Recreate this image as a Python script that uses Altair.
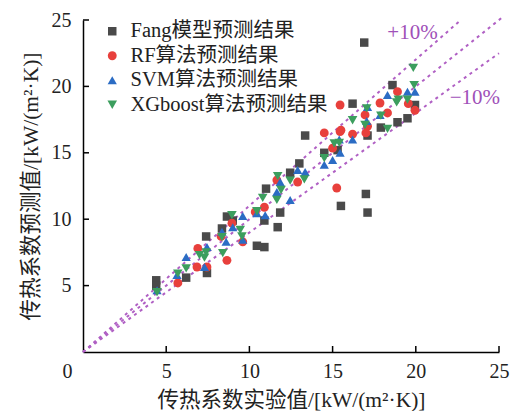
import altair as alt
import pandas as pd

series_names = ["Fang模型预测结果", "RF算法预测结果", "SVM算法预测结果", "XGboost算法预测结果"]
series_colors = ["#4a4a4a", "#e8403c", "#2b6cc4", "#3c9e5e"]
series_shapes = ["square", "circle", "triangle-up", "triangle-down"]
series_sizes = [72, 92, 110, 110]

fang_x = [4.4, 4.4, 6.2, 7.45, 7.4, 8.35, 8.65, 9.0, 10.45, 10.9, 10.9, 11.7, 11.85, 11.0, 12.45,
          13.0, 13.35, 14.5, 15.3, 15.5, 17.0, 17.1, 16.2, 17.1, 17.9, 18.9, 19.5, 19.95, 16.9, 18.6]
fang_y = [5.4, 5.0, 5.6, 5.95, 8.7, 9.3, 10.2, 9.9, 8.0, 7.9, 9.9, 9.4, 10.5, 12.3, 13.5,
          14.2, 16.3, 15.0, 15.2, 11.0, 11.9, 10.5, 18.7, 16.3, 16.9, 17.3, 17.6, 18.6, 23.3, 20.1]

rf_x = [5.7, 6.85, 6.9, 7.45, 8.65, 8.95, 9.6, 10.35, 10.9, 11.65, 12.9, 14.5, 15.0, 15.25, 15.45,
        15.5, 16.2, 17.0, 15.45, 16.95, 17.85, 18.3, 18.9, 19.55, 19.95, 17.1, 8.3]
rf_y = [5.2, 6.4, 7.8, 6.4, 6.9, 9.7, 8.3, 10.55, 10.9, 12.95, 12.8, 16.5, 15.35, 12.35, 16.6,
        16.7, 16.4, 16.5, 18.6, 17.85, 18.75, 18.0, 19.6, 18.7, 18.2, 17.0, 8.7]

svm_x = [4.45, 5.65, 6.2, 7.3, 7.45, 8.35, 8.6, 9.0, 9.6, 9.6, 10.45, 10.95, 11.65, 11.85, 12.45,
         12.9, 13.35, 14.5, 15.0, 15.45, 15.4, 16.2, 17.05, 17.85, 17.1, 18.3, 19.5, 19.95]
svm_y = [4.65, 5.8, 7.15, 6.4, 7.9, 9.05, 8.3, 9.4, 10.25, 8.45, 10.45, 10.3, 12.05, 12.8, 11.45,
         13.7, 13.55, 14.1, 14.45, 15.0, 16.0, 16.0, 17.4, 17.85, 18.45, 19.35, 19.6, 19.6]

xgb_x = [4.45, 6.2, 7.0, 7.3, 7.4, 8.35, 8.4, 8.95, 9.45, 9.55, 10.45, 10.8, 11.65, 11.7, 11.9,
         12.45, 13.3, 14.5, 15.1, 15.4, 16.2, 16.95, 17.05, 17.9, 18.3, 18.85, 18.95, 19.5, 19.9, 19.85, 5.7]
xgb_y = [4.5, 6.3, 7.3, 7.1, 7.5, 8.65, 7.45, 10.3, 9.2, 8.7, 10.6, 11.6, 11.45, 13.25, 12.2,
         12.9, 13.0, 14.6, 15.7, 15.75, 17.45, 17.1, 18.35, 17.8, 16.8, 18.8, 19.0, 19.0, 20.1, 21.4, 5.9]

# reference lines: +10%, 0%, -10% (end points)
ref_names = ["+10%", "0", "-10%"]
ref_x_end = [22.7, 25.2, 25.0]
ref_y_end = [25.0, 25.2, 22.5]

# annotation labels
ann_text = ["+10%", "−10%"]
ann_x = [19.8, 23.55]
ann_y = [24.0, 19.1]

x_tick_vals = [0, 5, 10, 15, 20, 25]
y_tick_vals = [5, 10, 15, 20, 25]

W, H = 416, 332
FONT = "Liberation Serif, Noto Sans CJK SC"
PURPLE = "#b060c4"

rows = []
idx = 0
for name, xs, ys in zip(series_names, [fang_x, rf_x, svm_x, xgb_x], [fang_y, rf_y, svm_y, xgb_y]):
    for a, b in zip(xs, ys):
        rows.append({"series": name, "x": a, "y": b, "idx": idx})
        idx += 1
df = pd.DataFrame(rows)

ref_rows = []
for n, xe, ye in zip(ref_names, ref_x_end, ref_y_end):
    ref_rows.append({"line": n, "x": 0, "y": 0})
    ref_rows.append({"line": n, "x": xe, "y": ye})
ref_df = pd.DataFrame(ref_rows)

ann_df = pd.DataFrame({"t": ann_text, "x": ann_x, "y": ann_y})

xscale = alt.Scale(domain=[0, 25], nice=False, zero=False)
yscale = alt.Scale(domain=[0, 25], nice=False, zero=False)

x_axis = alt.Axis(
    values=x_tick_vals, title="传热系数实验值/[kW/(m²·K)]", grid=False, ticks=False,
    labelFlush=False, labelPadding=9, titlePadding=8,
    labelOffset={"condition": {"test": "datum.value === 0", "value": -16}, "value": 0},
)
y_axis = alt.Axis(
    values=y_tick_vals, title="传热系数预测值/[kW/(m²·K)]", grid=False, ticks=False,
    labelPadding=12, titlePadding=9,
)

lines = alt.Chart(ref_df).mark_line(color=PURPLE, strokeWidth=2, strokeDash=[3, 4]).encode(
    x=alt.X("x:Q", scale=xscale, axis=x_axis),
    y=alt.Y("y:Q", scale=yscale, axis=y_axis),
    detail="line:N",
)

points = alt.Chart(df).mark_point(filled=True, opacity=1, strokeWidth=0).encode(
    x=alt.X("x:Q", scale=xscale),
    y=alt.Y("y:Q", scale=yscale),
    color=alt.Color("series:N", scale=alt.Scale(domain=series_names, range=series_colors),
                    legend=alt.Legend(title=None)),
    shape=alt.Shape("series:N", scale=alt.Scale(domain=series_names, range=series_shapes),
                    legend=alt.Legend(title=None)),
    size=alt.Size("series:N", scale=alt.Scale(domain=series_names, range=series_sizes), legend=None),
    order=alt.Order("idx:Q"),
)

ann = alt.Chart(ann_df).mark_text(font=FONT, fontSize=21, color="#a050b8").encode(
    x=alt.X("x:Q", scale=xscale),
    y=alt.Y("y:Q", scale=yscale),
    text="t:N",
)

xt = alt.Chart(pd.DataFrame({"v": x_tick_vals[1:]})).mark_rule(color="black", strokeWidth=1.5).encode(
    x=alt.X("v:Q", scale=xscale), y=alt.value(H), y2=alt.value(H - 6)
)
yt = alt.Chart(pd.DataFrame({"v": y_tick_vals})).mark_rule(color="black", strokeWidth=1.5).encode(
    y=alt.Y("v:Q", scale=yscale), x=alt.value(0), x2=alt.value(6)
)

chart = alt.layer(lines, points, ann, xt, yt).properties(
    width=W, height=H,
    autosize=alt.AutoSizeParams(type="none"),
    padding={"left": 83, "top": 20, "right": 18, "bottom": 59},
).configure_view(stroke=None).configure_axis(
    domainColor="black", domainWidth=1.5,
    labelFont=FONT, labelFontSize=20, labelColor="#222",
    titleFont=FONT, titleFontSize=21.5, titleFontWeight="normal", titleColor="#222",
).configure_legend(
    orient="none", legendX=19, legendY=1, labelFont=FONT, labelFontSize=20.5, labelColor="#222",
    symbolSize=40, symbolStrokeWidth=0, rowPadding=3.5, labelOffset=8, padding=0, labelLimit=0,
)

chart.save("out.html", embed_options={"renderer": "svg", "actions": False})
